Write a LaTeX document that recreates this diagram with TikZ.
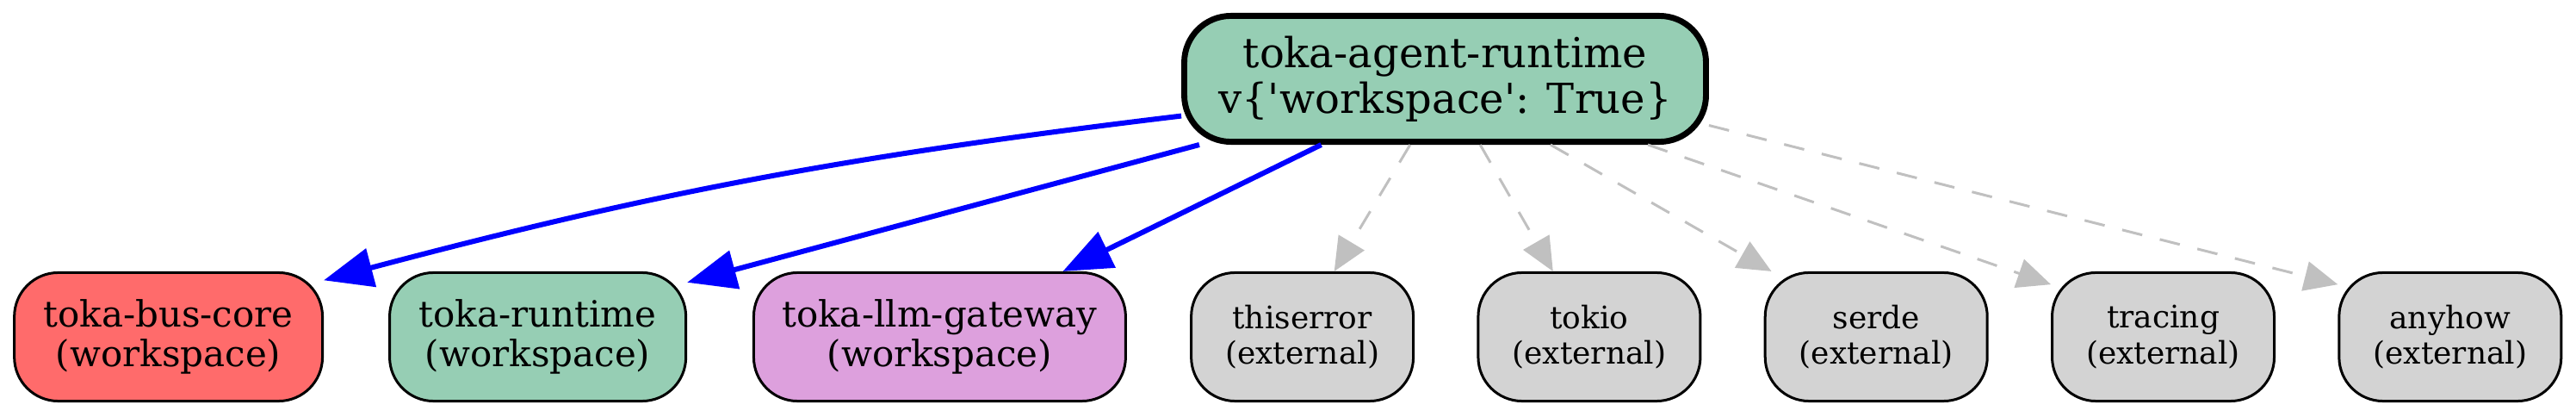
\documentclass[tikz,border=0pt]{standalone}
\usepackage{fontspec}
\setmainfont{DejaVu Serif}
\usetikzlibrary{arrows.meta}
\definecolor{WsGreen}{HTML}{96CEB4}
\definecolor{WsRed}{HTML}{FF6B6B}
\definecolor{WsPlum}{HTML}{DDA0DD}
\definecolor{ExtGrey}{HTML}{D3D3D3}
\definecolor{DepGrey}{HTML}{C0C0C0}
\tikzset{
  crate/.style={draw=black,line width=1pt,rounded corners=17pt,align=center,
    minimum height=49.7pt,inner sep=0pt},
  wscrate/.style={crate,font=\fontsize{14}{15.6}\selectfont},
  extcrate/.style={crate,fill=ExtGrey,minimum width=86pt,font=\fontsize{12}{13.9}\selectfont},
  wsedge/.style={blue,line width=2pt,-{Triangle[length=19pt,width=15pt]}},
  extedge/.style={DepGrey,line width=1pt,dash pattern=on 8pt off 7pt,
    -{Triangle[length=13pt,width=11.5pt]}}
}

\begin{document}
\begin{tikzpicture}[x=1pt,y=1pt]
\useasboundingbox (0,0) rectangle (997.33,161);
% root crate
\node[crate,line width=2.3pt,fill=WsGreen,minimum width=202pt,minimum height=48.7pt,
  rounded corners=18pt,font=\fontsize{16}{17.8}\selectfont] (root) at (559.5,130.5)
  {toka-agent-runtime\\v\{\textquotesingle workspace\textquotesingle: True\}};
% workspace crates
\node[wscrate,fill=WsRed,minimum width=119.3pt] (buscore) at (65.2,30.67) {toka-bus-core\\(workspace)};
\node[wscrate,fill=WsGreen,minimum width=114.7pt] (runtime) at (208.2,30.67) {toka-runtime\\(workspace)};
\node[wscrate,fill=WsPlum,minimum width=144pt] (llm) at (363.8,30.67) {toka-llm-gateway\\(workspace)};
% external crates
\foreach \n [count=\i] in {thiserror,tokio,serde,tracing,anyhow}
  \node[extcrate] (\n) at ({504.2+111.1*(\i-1)},30.67) {\n\\(external)};
% dependencies
\draw[wsedge] (root.188) to[bend right=4] (buscore.20);
\draw[wsedge] (root.195) -- (runtime.20);
\draw[wsedge] (root.208) -- (llm.28);
\foreach \n/\a/\b in {thiserror/242/64,tokio/298/119,serde/328/148,tracing/342/155,anyhow/350/155}
  \draw[extedge] (root.\a) -- (\n.\b);
\end{tikzpicture}
\end{document}
